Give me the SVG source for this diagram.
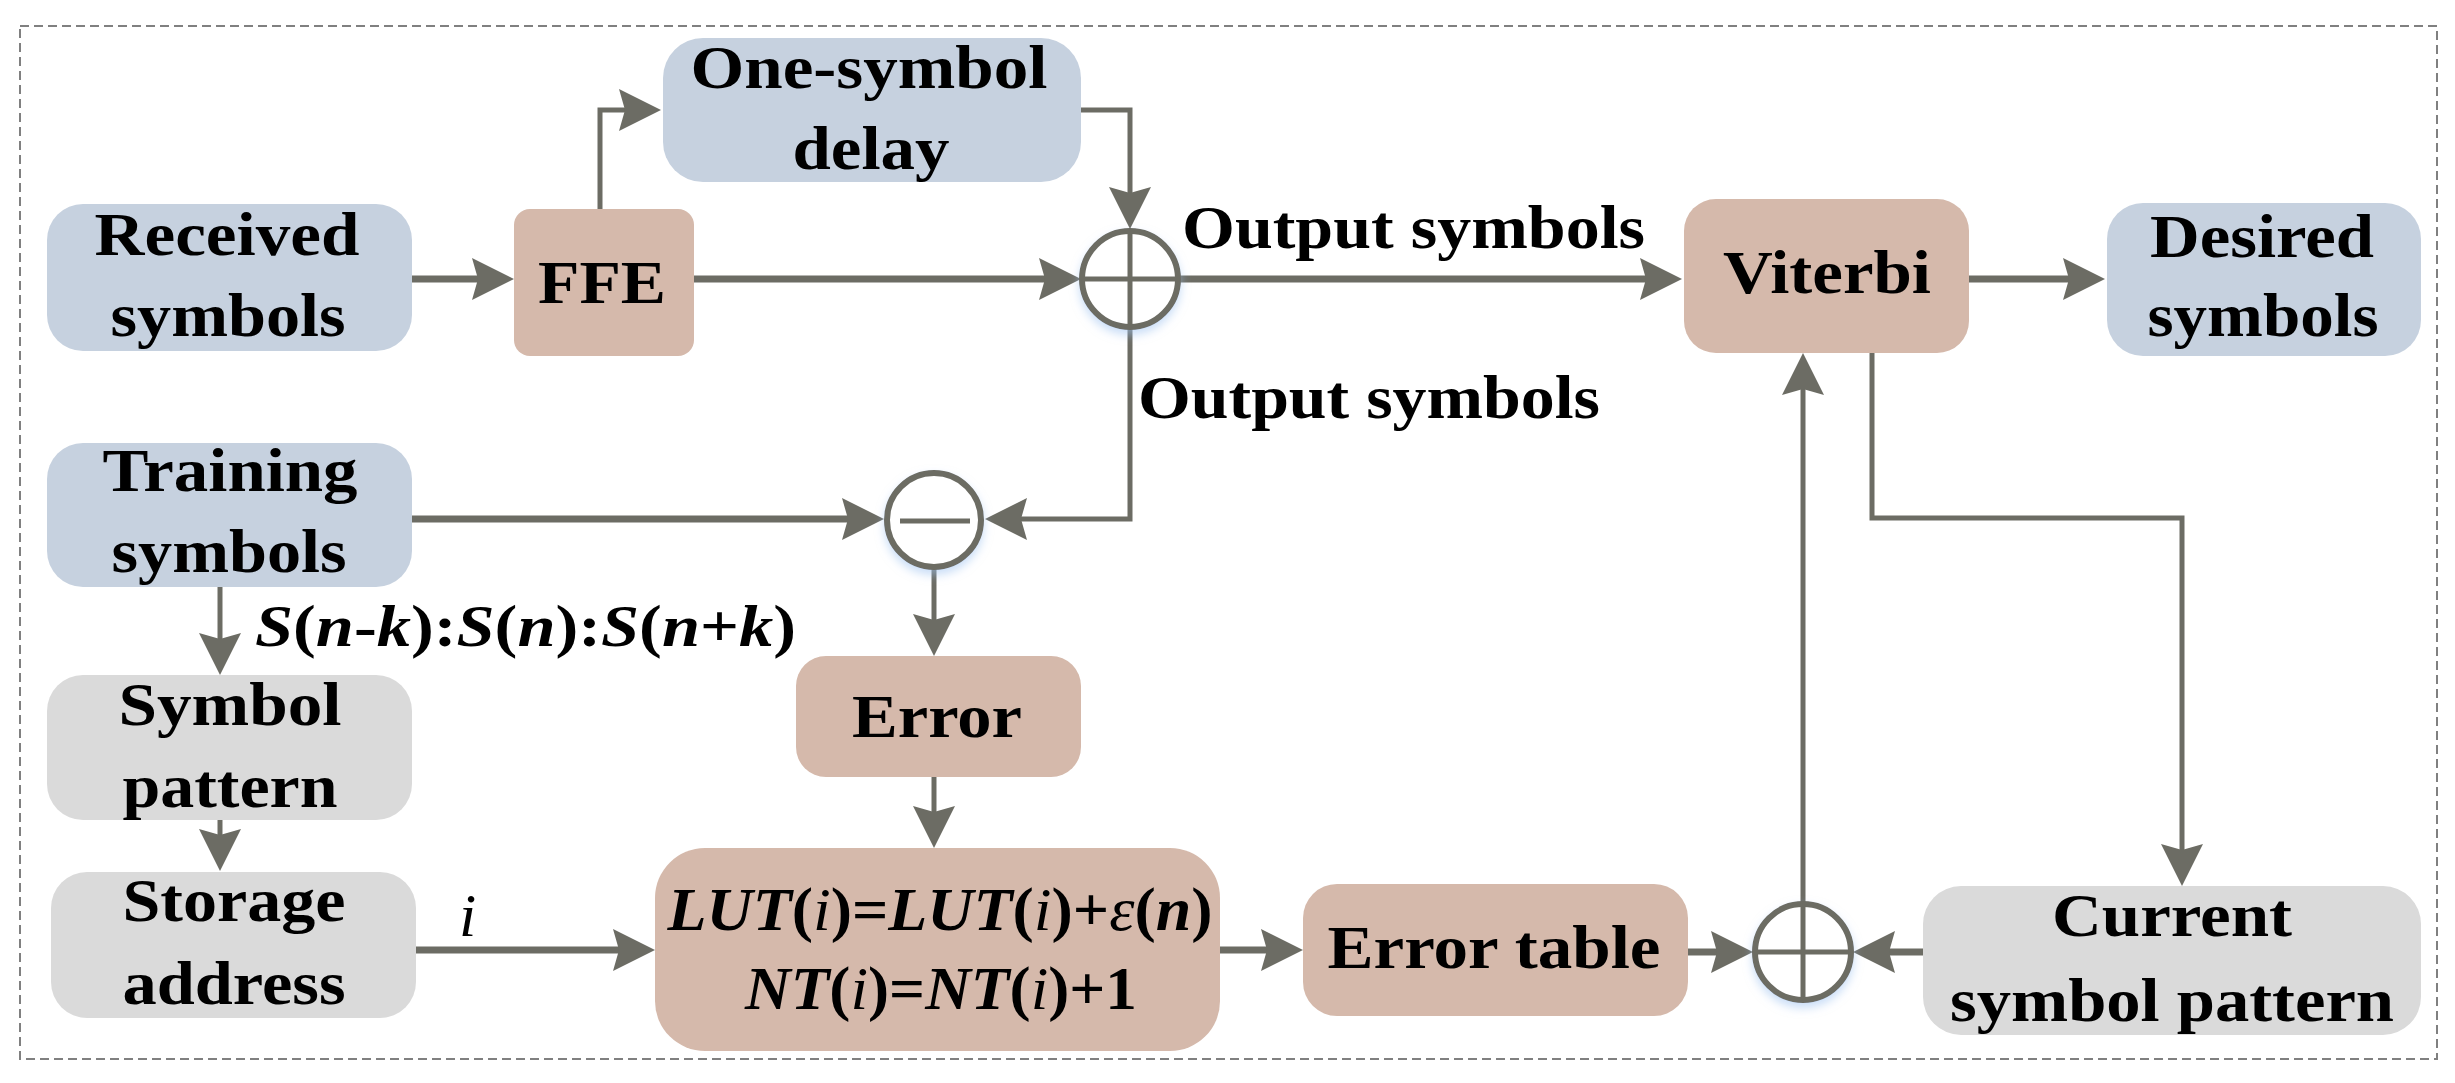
<svg xmlns="http://www.w3.org/2000/svg" width="2455" height="1083" viewBox="0 0 2455 1083">
<defs>
<style>
.t{font-family:"Liberation Serif","Times New Roman",serif;font-weight:bold;font-size:62px;fill:#000;}
.lbl{font-family:"Liberation Serif","Times New Roman",serif;font-weight:bold;font-size:60px;fill:#000;}
.it{font-style:italic;}
.rg{font-weight:normal;}
.blue{fill:#c6d1df;}
.brown{fill:#d5b9ab;}
.gray{fill:#dadada;}
.ln{fill:none;stroke:#6c6c64;stroke-width:5;}
.thick{stroke-width:7;}
.ring{fill:#fff;stroke:#6c6c64;stroke-width:6;}
.cross{stroke:#6c6c64;stroke-width:5;fill:none;}
</style>
<marker id="ah" markerUnits="userSpaceOnUse" markerWidth="46" markerHeight="46" viewBox="0 -23 46 46" refX="6" refY="0" orient="auto" overflow="visible">
<path d="M0,-21 L42,0 L0,21 L6,0 Z" fill="#6c6c64"/>
</marker>
<filter id="glow" x="-30%" y="-30%" width="160%" height="170%">
<feDropShadow dx="0" dy="5" stdDeviation="5" flood-color="#9fc3f0" flood-opacity="0.55"/>
</filter>
</defs>
<rect x="20" y="26" width="2417" height="1033" fill="#fff" stroke="#808080" stroke-width="2" stroke-dasharray="9 5"/>

<g id="connectors">
<path class="ln thick" d="M412,279 H478" marker-end="url(#ah)"/>
<path class="ln" d="M600,209 V110 H625" marker-end="url(#ah)"/>
<path class="ln" d="M1081,110 H1130 V193" marker-end="url(#ah)"/>
<path class="ln thick" d="M694,279 H1045" marker-end="url(#ah)"/>
<path class="ln thick" d="M1180,279 H1646" marker-end="url(#ah)"/>
<path class="ln thick" d="M1969,279 H2069" marker-end="url(#ah)"/>
<path class="ln" d="M1130,329 V519 H1021" marker-end="url(#ah)"/>
<path class="ln thick" d="M412,519 H848" marker-end="url(#ah)"/>
<path class="ln" d="M934,569 V620" marker-end="url(#ah)"/>
<path class="ln" d="M934,777 V812" marker-end="url(#ah)"/>
<path class="ln" d="M220,587 V639" marker-end="url(#ah)"/>
<path class="ln" d="M220,820 V835" marker-end="url(#ah)"/>
<path class="ln thick" d="M416,950 H619" marker-end="url(#ah)"/>
<path class="ln thick" d="M1220,950 H1267" marker-end="url(#ah)"/>
<path class="ln thick" d="M1688,952 H1717" marker-end="url(#ah)"/>
<path class="ln thick" d="M1923,952 H1889" marker-end="url(#ah)"/>
<path class="ln" d="M1803,903 V389" marker-end="url(#ah)"/>
<path class="ln" d="M1872,353 V518 H2182 V850" marker-end="url(#ah)"/>
</g>

<g id="received">
<rect class="blue" x="47" y="204" width="365" height="147" rx="36"/>
<text class="t" x="227" y="255" text-anchor="middle" textLength="265" lengthAdjust="spacingAndGlyphs">Received</text>
<text class="t" x="228" y="336" text-anchor="middle" textLength="235" lengthAdjust="spacingAndGlyphs">symbols</text>
</g>

<g id="ffe">
<rect class="brown" x="514" y="209" width="180" height="147" rx="16"/>
<text class="t" x="602" y="303" text-anchor="middle" textLength="128" lengthAdjust="spacingAndGlyphs">FFE</text>
</g>

<g id="delay">
<rect class="blue" x="663" y="38" width="418" height="144" rx="40"/>
<text class="t" x="869" y="88" text-anchor="middle" textLength="357" lengthAdjust="spacingAndGlyphs">One-symbol</text>
<text class="t" x="871" y="169" text-anchor="middle" textLength="157" lengthAdjust="spacingAndGlyphs">delay</text>
</g>

<g id="sum1" filter="url(#glow)">
<circle class="ring" cx="1130" cy="279" r="48"/>
<path class="cross" d="M1082,279 H1178 M1130,231 V327"/>
</g>

<g id="label-output1">
<text class="t" x="1182" y="248" textLength="463" lengthAdjust="spacingAndGlyphs">Output symbols</text>
</g>
<g id="label-output2">
<text class="t" x="1138" y="418" textLength="462" lengthAdjust="spacingAndGlyphs">Output symbols</text>
</g>

<g id="viterbi">
<rect class="brown" x="1684" y="199" width="285" height="154" rx="32"/>
<text class="t" x="1827" y="293" text-anchor="middle" textLength="208" lengthAdjust="spacingAndGlyphs">Viterbi</text>
</g>

<g id="desired">
<rect class="blue" x="2107" y="203" width="314" height="153" rx="36"/>
<text class="t" x="2262" y="257" text-anchor="middle" textLength="224" lengthAdjust="spacingAndGlyphs">Desired</text>
<text class="t" x="2263" y="336" text-anchor="middle" textLength="231" lengthAdjust="spacingAndGlyphs">symbols</text>
</g>

<g id="training">
<rect class="blue" x="47" y="443" width="365" height="144" rx="36"/>
<text class="t" x="230" y="491" text-anchor="middle" textLength="255" lengthAdjust="spacingAndGlyphs">Training</text>
<text class="t" x="229" y="572" text-anchor="middle" textLength="235" lengthAdjust="spacingAndGlyphs">symbols</text>
</g>

<g id="minus" filter="url(#glow)">
<circle class="ring" cx="934" cy="520" r="47"/>
<path class="cross" d="M900,521 H970" stroke-width="6"/>
</g>

<g id="label-pattern">
<text class="lbl" x="255" y="646" textLength="541" lengthAdjust="spacingAndGlyphs"><tspan class="it">S</tspan>(<tspan class="it">n</tspan>-<tspan class="it">k</tspan>):<tspan class="it">S</tspan>(<tspan class="it">n</tspan>):<tspan class="it">S</tspan>(<tspan class="it">n</tspan>+<tspan class="it">k</tspan>)</text>
</g>

<g id="error">
<rect class="brown" x="796" y="656" width="285" height="121" rx="30"/>
<text class="t" x="937" y="737" text-anchor="middle" textLength="170" lengthAdjust="spacingAndGlyphs">Error</text>
</g>

<g id="symbol-pattern">
<rect class="gray" x="47" y="675" width="365" height="145" rx="36"/>
<text class="t" x="230" y="725" text-anchor="middle" textLength="223" lengthAdjust="spacingAndGlyphs">Symbol</text>
<text class="t" x="230" y="807" text-anchor="middle" textLength="215" lengthAdjust="spacingAndGlyphs">pattern</text>
</g>

<g id="storage">
<rect class="gray" x="51" y="872" width="365" height="146" rx="36"/>
<text class="t" x="234" y="921" text-anchor="middle" textLength="223" lengthAdjust="spacingAndGlyphs">Storage</text>
<text class="t" x="234" y="1004" text-anchor="middle" textLength="223" lengthAdjust="spacingAndGlyphs">address</text>
</g>

<g id="label-i">
<text class="t it rg" x="459" y="936" font-size="54">i</text>
</g>

<g id="lut">
<rect class="brown" x="655" y="848" width="565" height="203" rx="50"/>
<text class="t" x="940" y="930" text-anchor="middle" textLength="545" lengthAdjust="spacingAndGlyphs"><tspan class="it">LUT</tspan>(<tspan class="it rg">i</tspan>)=<tspan class="it">LUT</tspan>(<tspan class="it rg">i</tspan>)+<tspan class="it rg">ε</tspan>(<tspan class="it">n</tspan>)</text>
<text class="t" x="941" y="1009" text-anchor="middle" textLength="392" lengthAdjust="spacingAndGlyphs"><tspan class="it">NT</tspan>(<tspan class="it rg">i</tspan>)=<tspan class="it">NT</tspan>(<tspan class="it rg">i</tspan>)+1</text>
</g>

<g id="error-table">
<rect class="brown" x="1303" y="884" width="385" height="132" rx="34"/>
<text class="t" x="1494" y="968" text-anchor="middle" textLength="333" lengthAdjust="spacingAndGlyphs">Error table</text>
</g>

<g id="sum2" filter="url(#glow)">
<circle class="ring" cx="1803" cy="952" r="48"/>
<path class="cross" d="M1755,952 H1851 M1803,904 V1000"/>
</g>

<g id="current">
<rect class="gray" x="1923" y="886" width="498" height="149" rx="38"/>
<text class="t" x="2172" y="936" text-anchor="middle" textLength="240" lengthAdjust="spacingAndGlyphs">Current</text>
<text class="t" x="2172" y="1021" text-anchor="middle" textLength="444" lengthAdjust="spacingAndGlyphs">symbol pattern</text>
</g>
</svg>
